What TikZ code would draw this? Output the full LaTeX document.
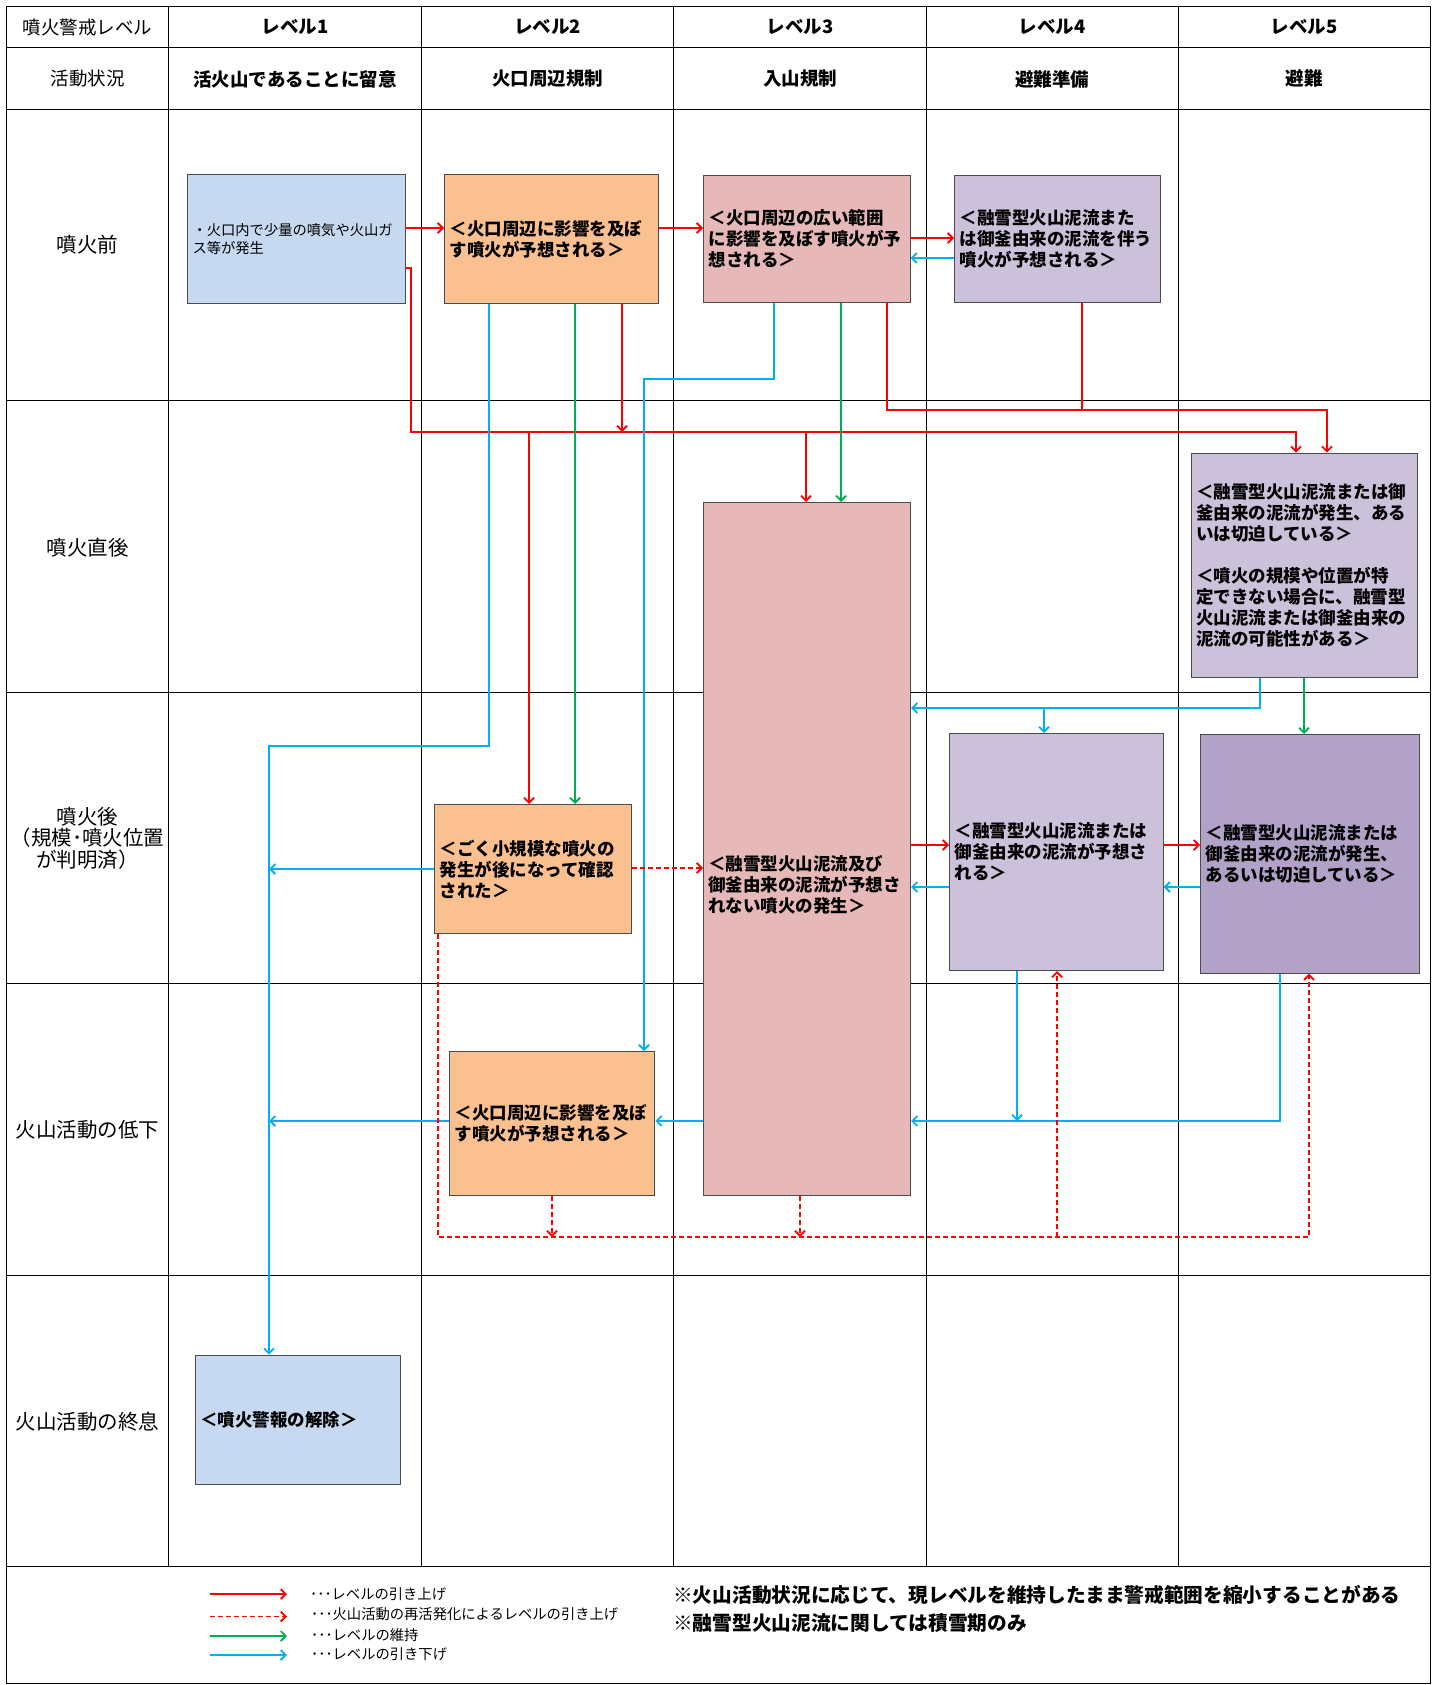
\documentclass[tikz,border=0pt]{standalone}
\usepackage{fontspec}
\setmainfont{Noto Sans CJK JP}
\usetikzlibrary{arrows.meta}
\definecolor{cBlueBox}{RGB}{198,217,240}
\definecolor{cOrange}{RGB}{250,192,143}
\definecolor{cPink}{RGB}{230,185,184}
\definecolor{cLav}{RGB}{204,193,218}
\definecolor{cPurp}{RGB}{178,162,199}
\definecolor{cRed}{RGB}{255,0,0}
\definecolor{cGreen}{RGB}{0,176,80}
\definecolor{cBlue}{RGB}{0,176,240}
\begin{document}
\begin{tikzpicture}[x=1pt,y=-1pt,
  gridline/.style={line width=1pt,black},
  bx/.style={draw=black!70, line width=1pt, inner xsep=5pt, inner ysep=0pt, align=left, anchor=north west, font=\bfseries\fontsize{17.5}{21}\selectfont},
  bxtext/.style={inner xsep=5pt, inner ysep=0pt, align=left, font=\bfseries\fontsize{17.5}{21}\selectfont},
  hdr/.style={font=\fontsize{18.5}{22}\selectfont},
  hdrb/.style={font=\bfseries\fontsize{18.5}{22}\selectfont},
  rowlab/.style={font=\fontsize{20.5}{21.5}\selectfont, align=center},
  legtext/.style={anchor=west, inner sep=0pt, font=\fontsize{14.3}{16}\selectfont},
  notetext/.style={anchor=west, inner sep=0pt, font=\bfseries\fontsize{19.7}{24}\selectfont},
  conn/.style={line width=1.8pt, -{Straight Barb[length=5pt,width=10pt]}},
  rarr/.style={conn, draw=cRed},
  rline/.style={line width=1.8pt, draw=cRed},
  rdash/.style={conn, draw=cRed, dash pattern=on 5pt off 3pt},
  garr/.style={conn, draw=cGreen},
  barr/.style={conn, draw=cBlue}
]
\useasboundingbox (0,0) rectangle (1437,1685);

% ---------- grid ----------
\draw[gridline] (6.5,6.5) rectangle (1430.5,1683);
\foreach \yy in {47.3,109.6,400.9,692.2,983.4,1275.8,1566}
  \draw[gridline] (6.5,\yy) -- (1430.5,\yy);
\foreach \xx in {168.7,421.3,673.9,926.5,1178}
  \draw[gridline] (\xx,6.5) -- (\xx,1566);

% ---------- headers ----------
\node[hdr]  (h0) at (87.6,27) {噴火警戒レベル};
\node[hdrb] (h1) at (295,27) {レベル1};
\node[hdrb] (h2) at (547.6,27) {レベル2};
\node[hdrb] (h3) at (800.2,27) {レベル3};
\node[hdrb] (h4) at (1052.3,27) {レベル4};
\node[hdrb] (h5) at (1304.3,27) {レベル5};
\node[hdr]  (s0) at (87.6,79) {活動状況};
\node[hdrb] (s1) at (295,79) {活火山であることに留意};
\node[hdrb] (s2) at (547.6,79) {火口周辺規制};
\node[hdrb] (s3) at (800.2,79) {入山規制};
\node[hdrb] (s4) at (1052.3,79) {避難準備};
\node[hdrb] (s5) at (1304.3,79) {避難};

% ---------- row labels ----------
\node[rowlab] (r1) at (87.6,245) {噴火前};
\node[rowlab] (r2) at (87.6,548) {噴火直後};
\node[rowlab] (r3) at (87.6,838) {噴火後\\（規模･噴火位置\\が判明済）};
\node[rowlab] (r4) at (87.6,1130) {火山活動の低下};
\node[rowlab] (r5) at (87.6,1422) {火山活動の終息};

% ---------- boxes ----------
\node[bx, fill=cBlueBox, minimum width=218pt, minimum height=129pt, text width=208pt,
      font=\fontsize{14.3}{18.3}\selectfont] (A1) at (187,174)
  {・火口内で少量の噴気や火山ガ\\ス等が発生};
\node[bx, fill=cOrange, minimum width=214pt, minimum height=129pt, text width=204pt] (A2) at (444,174)
  {＜火口周辺に影響を及ぼ\\す噴火が予想される＞};
\node[bx, fill=cPink, minimum width=206.5pt, minimum height=127pt, text width=196.5pt] (A3) at (703,175)
  {＜火口周辺の広い範囲\\に影響を及ぼす噴火が予\\想される＞};
\node[bx, fill=cLav, minimum width=205.5pt, minimum height=127pt, text width=195.5pt] (A4) at (954,175)
  {＜融雪型火山泥流また\\は御釜由来の泥流を伴う\\噴火が予想される＞};
\node[bx, fill=cLav, minimum width=226.6pt, minimum height=224.6pt, text width=216.6pt] (B5) at (1190.7,452.7)
  {＜融雪型火山泥流または御\\釜由来の泥流が発生、ある\\いは切迫している＞\\[21pt]＜噴火の規模や位置が特\\定できない場合に、融雪型\\火山泥流または御釜由来の\\泥流の可能性がある＞};
\node[bx, fill=cOrange, minimum width=197pt, minimum height=129pt, text width=187pt] (C2) at (434,804)
  {＜ごく小規模な噴火の\\発生が後になって確認\\された＞};
\node[bx, fill=cPink, minimum width=207pt, minimum height=693pt, text width=197pt] (C3) at (703,502) {};
\node[bxtext, anchor=west, text width=197pt] (C3t) at ([yshift=-36pt]C3.west)
  {＜融雪型火山泥流及び\\御釜由来の泥流が予想さ\\れない噴火の発生＞};
\node[bx, fill=cLav, minimum width=213.7pt, minimum height=237pt, text width=203.7pt] (C4) at (949,733)
  {＜融雪型火山泥流または\\御釜由来の泥流が予想さ\\れる＞};
\node[bx, fill=cPurp, minimum width=219.3pt, minimum height=238.7pt, text width=209.3pt] (C5) at (1200,734)
  {＜融雪型火山泥流または\\御釜由来の泥流が発生、\\あるいは切迫している＞};
\node[bx, fill=cOrange, minimum width=205.3pt, minimum height=144pt, text width=195.3pt] (D2) at (449,1051)
  {＜火口周辺に影響を及ぼ\\す噴火が予想される＞};
\node[bx, fill=cBlueBox, minimum width=205.6pt, minimum height=129.6pt, text width=195.6pt] (E1) at (194.7,1354.7)
  {＜噴火警報の解除＞};

% ---------- helper coordinates ----------
\coordinate (yR1) at (0,228);
\coordinate (yR2) at (0,238);
\coordinate (yB1) at (0,258);
\coordinate (yR4) at (0,268);
\coordinate (xR4) at (411,0);
\coordinate (yH1) at (0,432);
\coordinate (xL5a) at (1296,0);
\coordinate (xC2r) at (529,0);
\coordinate (xC3r) at (806,0);
\coordinate (xA2r) at (622,0);
\coordinate (xA3r) at (887,0);
\coordinate (yH2) at (0,410);
\coordinate (xL5b) at (1327,0);
\coordinate (xA4r) at (1082,0);
\coordinate (yR6) at (0,845);
\coordinate (xA2g) at (575,0);
\coordinate (xA3g) at (841,0);
\coordinate (xB5g) at (1304,0);
\coordinate (xA2b) at (489,0);
\coordinate (yB2) at (0,746);
\coordinate (xE1) at (269,0);
\coordinate (xA3b) at (774,0);
\coordinate (yB3) at (0,379);
\coordinate (xD2b) at (644,0);
\coordinate (xB5b) at (1260,0);
\coordinate (yB4) at (0,708);
\coordinate (xC4b) at (1044,0);
\coordinate (yB5) at (0,887);
\coordinate (yB7) at (0,869);
\coordinate (yB8) at (0,1121);
\coordinate (xC4d) at (1017,0);
\coordinate (xC5d) at (1280,0);
\coordinate (yD1) at (0,868);
\coordinate (xC2d) at (438,0);
\coordinate (yD2) at (0,1237);
\coordinate (xC5u) at (1309,0);
\coordinate (xC4u) at (1057,0);
\coordinate (xD2d) at (552,0);
\coordinate (xC3d) at (800,0);

% ---------- red (level up) ----------
\draw[rarr] (A1.east |- yR1) -- (A2.west |- yR1);
\draw[rarr] (A2.east |- yR1) -- (A3.west |- yR1);
\draw[rarr] (A3.east |- yR2) -- (A4.west |- yR2);
\draw[rarr] (A1.east |- yR4) -| (xR4 |- yH1) -| (xL5a |- B5.north);
\draw[rarr] (xC2r |- yH1) -- (xC2r |- C2.north);
\draw[rarr] (xC3r |- yH1) -- (xC3r |- C3.north);
\draw[rarr] (xA2r |- A2.south) -- (xA2r |- yH1);
\draw[rarr] (xA3r |- A3.south) |- (xL5b |- yH2) -- (xL5b |- B5.north);
\draw[rline] (xA4r |- A4.south) -- (xA4r |- yH2);
\draw[rarr] (C3.east |- yR6) -- (C4.west |- yR6);
\draw[rarr] (C4.east |- yR6) -- (C5.west |- yR6);

% ---------- green (maintain) ----------
\draw[garr] (xA2g |- A2.south) -- (xA2g |- C2.north);
\draw[garr] (xA3g |- A3.south) -- (xA3g |- C3.north);
\draw[garr] (xB5g |- B5.south) -- (xB5g |- C5.north);

% ---------- blue (level down) ----------
\draw[barr] (A4.west |- yB1) -- (A3.east |- yB1);
\draw[barr] (xA2b |- A2.south) |- (xE1 |- yB2) -- (xE1 |- E1.north);
\draw[barr] (xA3b |- A3.south) |- (xD2b |- yB3) -- (xD2b |- D2.north);
\draw[barr] (xB5b |- B5.south) |- (C3.east |- yB4);
\draw[barr] (xC4b |- yB4) -- (xC4b |- C4.north);
\draw[barr] (C5.west |- yB5) -- (C4.east |- yB5);
\draw[barr] (C4.west |- yB5) -- (C3.east |- yB5);
\draw[barr] (C2.west |- yB7) -- (xE1 |- yB7);
\draw[barr] (D2.west |- yB8) -- (xE1 |- yB8);
\draw[barr] (C3.west |- yB8) -- (D2.east |- yB8);
\draw[barr] (xC4d |- C4.south) -- (xC4d |- yB8);
\draw[barr] (xC5d |- C5.south) |- (C3.east |- yB8);

% ---------- red dashed (reactivation) ----------
\draw[rdash] (C2.east |- yD1) -- (C3.west |- yD1);
\draw[rdash] (xC2d |- C2.south) |- (xC5u |- yD2) -- (xC5u |- C5.south);
\draw[rdash] (xC4u |- yD2) -- (xC4u |- C4.south);
\draw[rdash] (xD2d |- D2.south) -- (xD2d |- yD2);
\draw[rdash] (xC3d |- C3.south) -- (xC3d |- yD2);

% ---------- legend ----------
\coordinate (lg1s) at (209.6,1594);   \coordinate (lg1e) at (287,1594);
\coordinate (lg2s) at (209.6,1616.5); \coordinate (lg2e) at (287,1616.5);
\coordinate (lg3s) at (209.6,1636);   \coordinate (lg3e) at (287,1636);
\coordinate (lg4s) at (209.6,1655);   \coordinate (lg4e) at (287,1655);
\draw[rarr] (lg1s) -- (lg1e);
\draw[rdash] (lg2s) -- (lg2e);
\draw[garr] (lg3s) -- (lg3e);
\draw[barr] (lg4s) -- (lg4e);
\node[legtext] (lt1) at (310,1594) {･･･レベルの引き上げ};
\node[legtext] (lt2) at (311,1614.5) {･･･火山活動の再活発化によるレベルの引き上げ};
\node[legtext] (lt3) at (311,1634.6) {･･･レベルの維持};
\node[legtext] (lt4) at (311,1654) {･･･レベルの引き下げ};

\node[notetext] (n1) at (673,1595) {※火山活動状況に応じて、現レベルを維持したまま警戒範囲を縮小することがある};
\node[notetext] (n2) at (673,1623) {※融雪型火山泥流に関しては積雪期のみ};
\end{tikzpicture}
\end{document}
